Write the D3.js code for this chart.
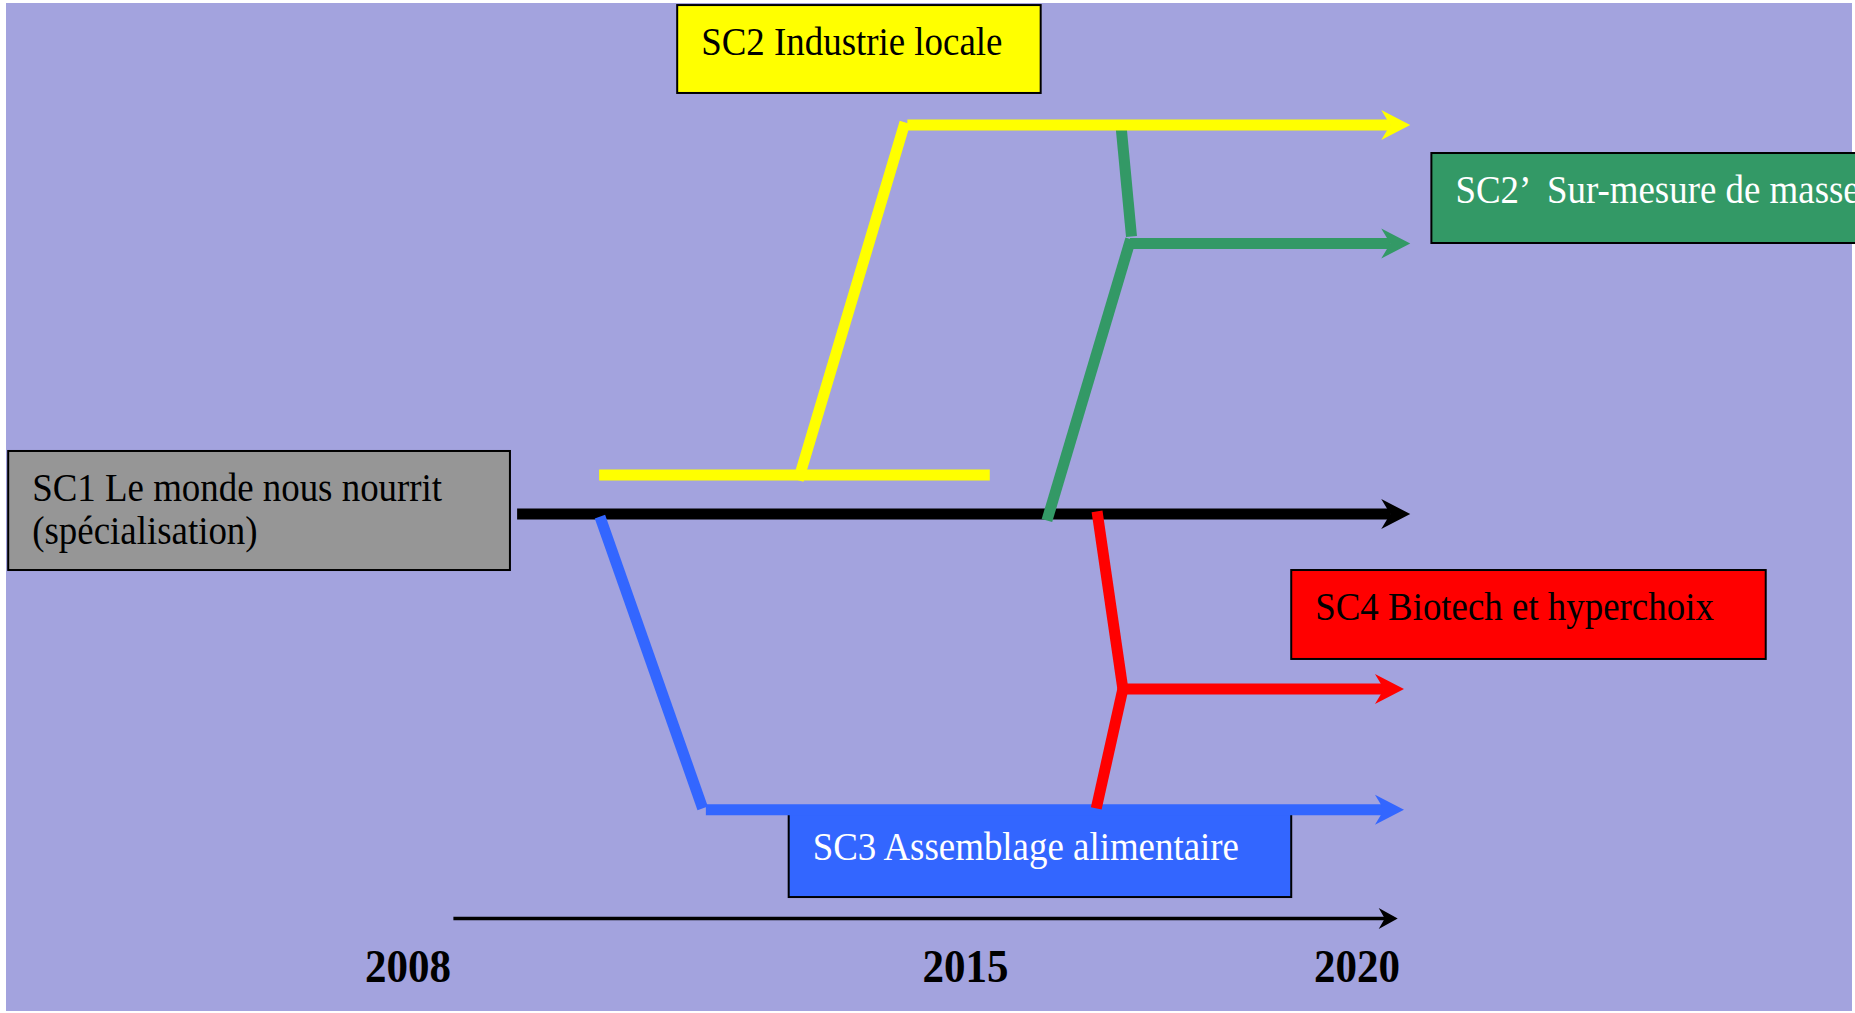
<!DOCTYPE html>
<html>
<head>
<meta charset="utf-8">
<script src="https://cdn.jsdelivr.net/npm/d3@7"></script>
<style>
  body { margin: 0; background: #fff; overflow: hidden; }
  svg { display: block; }
  text { font-family: "Liberation Serif", "Times New Roman", serif; white-space: pre; }
</style>
</head>
<body>
<script>
// timeline ticks
const years = [2008, 2015, 2020];
const timeline = [2008.57, 2020.52];

// scenarios: segments as [year, level], level 0 = SC1 trend
const scenarioNames = ["SC1", "SC2", "SC2'", "SC3", "SC4"];
const scenarioLabels = [
    ["SC1 Le monde nous nourrit", "(spécialisation)"],
    ["SC2 Industrie locale"],
    ["SC2’  Sur-mesure de masse"],
    ["SC3 Assemblage alimentaire"],
    ["SC4 Biotech et hyperchoix"]
];
const sc1Path = [
    [[2009.37, 0], [2020.68, 0]]
];
const sc2Path = [
    [[2010.40, 0.30], [2015.31, 0.30]],
    [[2012.90, 0.26], [2014.24, 3.02]],
    [[2014.27, 3.0], [2020.68, 3.0]]
];
const sc2bisPath = [
    [[2016.04, -0.05], [2017.11, 2.12]],
    [[2017.12, 2.14], [2016.99, 2.97]],
    [[2017.10, 2.086], [2020.68, 2.086]]
];
const sc3Path = [
    [[2010.41, -0.02], [2011.70, -2.27]],
    [[2011.74, -2.28], [2020.60, -2.28]]
];
const sc4Path = [
    [[2016.68, 0.02], [2017.01, -1.35]],
    [[2017.01, -1.35], [2016.67, -2.27]],
    [[2017.01, -1.35], [2020.60, -1.35]]
];

// label boxes: [yearStart, yearEnd, levelTop, levelBottom]
const boxLayout = [
    [2002.98, 2009.28, 0.486, -0.432],
    [2011.38, 2015.96, 3.925, 3.247],
    [2020.95, 2026.94, 2.784, 2.09],
    [2012.78, 2019.16, -2.283, -2.954],
    [2019.16, 2025.22, -0.432, -1.118]
];
const boxColors = ["#969696", "#ffff00", "#339966", "#3366ff", "#ff0000"];
const textColors = ["#000", "#000", "#fff", "#fff", "#000"];
const lineColors = ["#000", "#ffff00", "#339966", "#3366ff", "#ff0000"];

const width = 1855, height = 1013;

const svg = d3.select("body").append("svg")
    .attr("width", width)
    .attr("height", height);

svg.append("rect")
    .attr("x", 6).attr("y", 3)
    .attr("width", 1846).attr("height", 1008)
    .attr("fill", "#a3a3de");

const x = d3.scaleLinear().domain(years).range([408, 965.5, 1357]);
const y = d3.scaleLinear().domain([0, 3]).range([514, 125]);

// boxes
const boxes = svg.append("g").selectAll("g")
    .data(boxLayout)
    .join("g");

boxes.append("rect")
    .attr("x", d => x(d[0]))
    .attr("y", d => y(d[2]))
    .attr("width", d => x(d[1]) - x(d[0]))
    .attr("height", d => y(d[3]) - y(d[2]))
    .attr("fill", (d, i) => boxColors[i])
    .attr("stroke", "#000")
    .attr("stroke-width", 2);

boxes.each(function(d, i) {
    scenarioLabels[i].forEach((line, j) => {
        d3.select(this).append("text")
            .attr("transform", `translate(${x(d[0]) + 24},${y(d[2]) + 50 + j * 43}) scale(0.9,1)`)
            .attr("font-size", 41)
            .attr("fill", textColors[i])
            .text(line);
    });
});

// scenario lines, drawn in stacking order
const paths = [sc1Path, sc2Path, sc2bisPath, sc3Path, sc4Path];
const drawOrder = [0, 3, 4, 2, 1];
const lines = svg.append("g");

function arrowHead(g, tip, yy, len, half, notch, color) {
    g.append("path")
        .attr("d", `M${tip},${yy} L${tip - len},${yy - half} L${tip - len + notch},${yy} L${tip - len},${yy + half} Z`)
        .attr("fill", color);
}

drawOrder.forEach(i => {
    const segs = paths[i];
    const g = lines.append("g");
    segs.forEach((s, k) => {
        const last = k === segs.length - 1;
        const x1 = x(s[0][0]), y1 = y(s[0][1]);
        let x2 = x(s[1][0]);
        const y2 = y(s[1][1]);
        const tip = x2;
        if (last) x2 = tip - 20;
        g.append("line")
            .attr("x1", x1).attr("y1", y1)
            .attr("x2", x2).attr("y2", y2)
            .attr("stroke", lineColors[i])
            .attr("stroke-width", 11);
        if (last) arrowHead(g, tip, y2, 29, 15, 9, lineColors[i]);
    });
});

// time axis
svg.append("line")
    .attr("x1", x(timeline[0])).attr("y1", 918.5)
    .attr("x2", x(timeline[1]) - 12).attr("y2", 918.5)
    .attr("stroke", "#000")
    .attr("stroke-width", 3.5);
arrowHead(svg, x(timeline[1]), 918.5, 19, 10.5, 6, "#000");

svg.append("g").selectAll("text")
    .data(years)
    .join("text")
    .attr("transform", d => `translate(${x(d)},982) scale(0.915,1)`)
    .attr("text-anchor", "middle")
    .attr("font-size", 47)
    .attr("font-weight", "bold")
    .text(d => d);
</script>
</body>
</html>
